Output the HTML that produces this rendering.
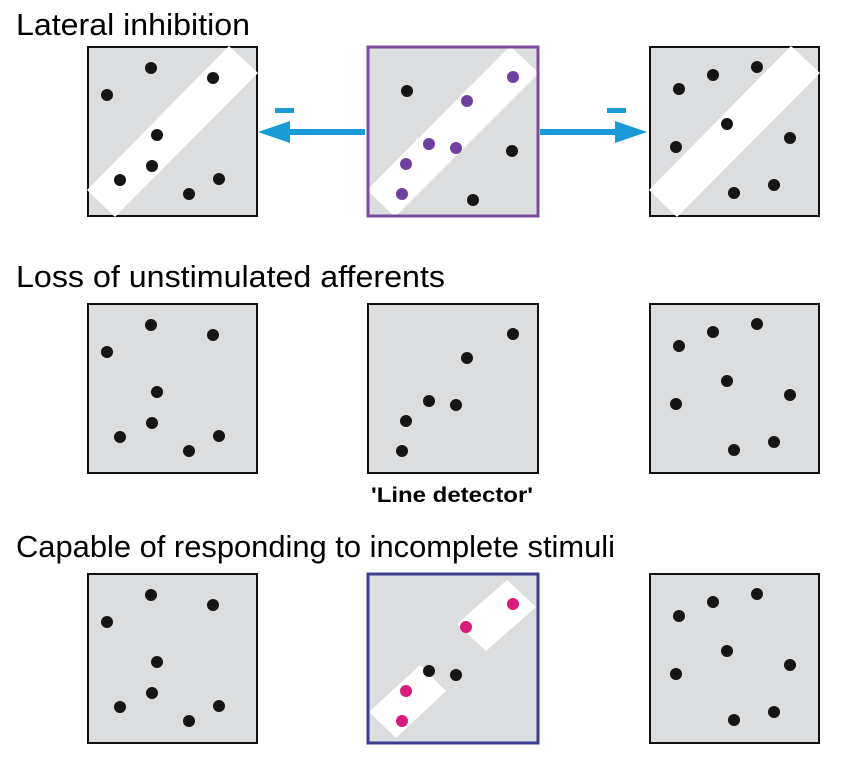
<!DOCTYPE html>
<html><head><meta charset="utf-8"><style>
html,body{margin:0;padding:0;background:#fff;width:850px;height:766px;overflow:hidden}
text{font-family:"Liberation Sans",Arial,sans-serif}
</style></head><body>
<svg width="850" height="766" viewBox="0 0 850 766" xmlns="http://www.w3.org/2000/svg">
<text x="16" y="35" font-size="31" textLength="234" lengthAdjust="spacingAndGlyphs">Lateral inhibition</text>
<text x="16" y="287" font-size="31" textLength="429" lengthAdjust="spacingAndGlyphs">Loss of unstimulated afferents</text>
<text x="16" y="557" font-size="31" textLength="599" lengthAdjust="spacingAndGlyphs">Capable of responding to incomplete stimuli</text>
<text x="371" y="502" font-size="21" font-weight="bold" textLength="162" lengthAdjust="spacingAndGlyphs">'Line detector'</text>

<rect x="88" y="47" width="169" height="169" fill="#dcdddf" stroke="#111" stroke-width="2"/>
<polygon points="229,46 258,73 115,217 87,190" fill="#fff"/>
<rect x="368" y="47" width="170" height="169" fill="#dcdddf"/>
<polygon points="510,46 539,73 395,217 367,190" fill="#fff"/>
<rect x="368" y="47" width="170" height="169" fill="none" stroke="#7c4c9c" stroke-width="3"/>
<rect x="650" y="47" width="169" height="169" fill="#dcdddf" stroke="#111" stroke-width="2"/>
<polygon points="791,46 820,73 677,217 649,190" fill="#fff"/>

<g fill="#151515">
<circle cx="151" cy="68" r="6"/><circle cx="107" cy="95" r="6"/><circle cx="213" cy="78" r="6"/><circle cx="157" cy="135" r="6"/><circle cx="152" cy="166" r="6"/><circle cx="120" cy="180" r="6"/><circle cx="219" cy="179" r="6"/><circle cx="189" cy="194" r="6"/>
<circle cx="407" cy="91" r="6"/><circle cx="512" cy="151" r="6"/><circle cx="473" cy="200" r="6"/>
<circle cx="679" cy="89" r="6"/><circle cx="713" cy="75" r="6"/><circle cx="757" cy="67" r="6"/><circle cx="727" cy="124" r="6"/><circle cx="676" cy="147" r="6"/><circle cx="790" cy="138" r="6"/><circle cx="734" cy="193" r="6"/><circle cx="774" cy="185" r="6"/>
</g>
<g fill="#7040a0">
<circle cx="467" cy="101" r="6"/><circle cx="513" cy="77" r="6"/><circle cx="429" cy="144" r="6"/><circle cx="456" cy="148" r="6"/><circle cx="406" cy="164" r="6"/><circle cx="402" cy="194" r="6"/>
</g>
<g fill="#1a9ad6">
<rect x="275" y="108" width="19" height="5"/>
<rect x="280" y="129" width="85" height="6"/>
<polygon points="258,132 290,121 290,143"/>
<rect x="607" y="108" width="19" height="5"/>
<rect x="540" y="129" width="85" height="6"/>
<polygon points="647,132 615,121 615,143"/>
</g>

<rect x="88" y="304" width="169" height="169" fill="#dcdddf" stroke="#111" stroke-width="2"/>
<rect x="368" y="304" width="170" height="169" fill="#dcdddf" stroke="#111" stroke-width="2"/>
<rect x="650" y="304" width="169" height="169" fill="#dcdddf" stroke="#111" stroke-width="2"/>
<g fill="#151515" transform="translate(0,257)">
<circle cx="151" cy="68" r="6"/><circle cx="107" cy="95" r="6"/><circle cx="213" cy="78" r="6"/><circle cx="157" cy="135" r="6"/><circle cx="152" cy="166" r="6"/><circle cx="120" cy="180" r="6"/><circle cx="219" cy="179" r="6"/><circle cx="189" cy="194" r="6"/>
<circle cx="467" cy="101" r="6"/><circle cx="513" cy="77" r="6"/><circle cx="429" cy="144" r="6"/><circle cx="456" cy="148" r="6"/><circle cx="406" cy="164" r="6"/><circle cx="402" cy="194" r="6"/>
<circle cx="679" cy="89" r="6"/><circle cx="713" cy="75" r="6"/><circle cx="757" cy="67" r="6"/><circle cx="727" cy="124" r="6"/><circle cx="676" cy="147" r="6"/><circle cx="790" cy="138" r="6"/><circle cx="734" cy="193" r="6"/><circle cx="774" cy="185" r="6"/>
</g>

<rect x="88" y="574" width="169" height="169" fill="#dcdddf" stroke="#111" stroke-width="2"/>
<rect x="368" y="574" width="170" height="169" fill="#dcdddf"/>
<polygon points="507,580 536,607 486,651 457,624" fill="#fff"/>
<polygon points="420,665 446,691 396,738 369,712" fill="#fff"/>
<rect x="368" y="574" width="170" height="169" fill="none" stroke="#3c3f8e" stroke-width="3"/>
<rect x="650" y="574" width="169" height="169" fill="#dcdddf" stroke="#111" stroke-width="2"/>
<g fill="#151515" transform="translate(0,527)">
<circle cx="151" cy="68" r="6"/><circle cx="107" cy="95" r="6"/><circle cx="213" cy="78" r="6"/><circle cx="157" cy="135" r="6"/><circle cx="152" cy="166" r="6"/><circle cx="120" cy="180" r="6"/><circle cx="219" cy="179" r="6"/><circle cx="189" cy="194" r="6"/>
<circle cx="429" cy="144" r="6"/><circle cx="456" cy="148" r="6"/>
<circle cx="679" cy="89" r="6"/><circle cx="713" cy="75" r="6"/><circle cx="757" cy="67" r="6"/><circle cx="727" cy="124" r="6"/><circle cx="676" cy="147" r="6"/><circle cx="790" cy="138" r="6"/><circle cx="734" cy="193" r="6"/><circle cx="774" cy="185" r="6"/>
</g>
<g fill="#d81b7c">
<circle cx="513" cy="604" r="6"/><circle cx="466" cy="627" r="6"/><circle cx="406" cy="691" r="6"/><circle cx="402" cy="721" r="6"/>
</g>
</svg>
</body></html>
